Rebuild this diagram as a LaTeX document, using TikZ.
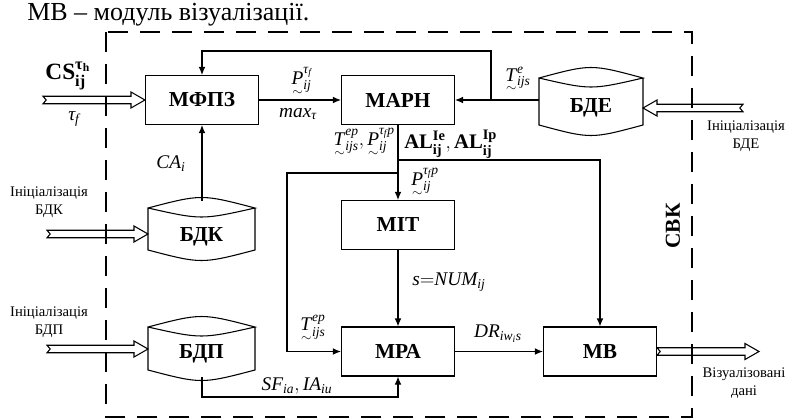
\documentclass[tikz,border=0pt]{standalone}
\usepackage{fontspec}
\usepackage{amsmath}
\setmainfont{Liberation Serif}
\usetikzlibrary{arrows.meta,calc}
\newcommand\ti[1]{\textit{#1}}
\newcommand\ut[1]{\mathord{\mbox{\ooalign{\textit{#1}\cr\hidewidth\smash{\raisebox{-0.55em}{$\scriptstyle\sim$}}\hidewidth\cr}}}}
\newcommand\dbcyl[4]{% x1, x2, top, side bottom
  \draw[thin line] (#1,#3+7) .. controls ({(#1+#2)/2},#3-7) .. (#2,#3+7)
     .. controls ({(#1+#2)/2},#3+19) .. (#1,#3+7) -- (#1,#4)
     .. controls ({(#1+#2)/2},#4+14) .. (#2,#4) -- (#2,#3+7);}
\newcommand\hollowarrow[2]{%
  \draw[thin line] let \p1=(#1),\p2=(#2),\n1={ifthenelse(\x2>\x1,1,-1)} in
    (\x1,\y1+2.8pt) -- (\x2-\n1*10.5pt,\y2+2.8pt) -- (\x2-\n1*10.5pt,\y2+6pt) -- (\x2,\y2)
    -- (\x2-\n1*10.5pt,\y2-6pt) -- (\x2-\n1*10.5pt,\y2-2.8pt) -- (\x1,\y1-2.8pt)
    -- (\x1+\n1*2.4pt,\y1) -- cycle;}
\begin{document}
\begin{tikzpicture}[x=0.75pt,y=-0.75pt,
  thin line/.style={line width=0.8pt,line join=miter},
  box/.style={draw,line width=0.8pt,minimum width=84.75pt,minimum height=36.75pt,
    inner sep=0pt,font=\bfseries\fontsize{16}{16}\selectfont},
  dblabel/.style={font=\bfseries\fontsize{16}{16}\selectfont,inner sep=0pt},
  arr/.style={line width=0.8pt,-{Latex[length=6pt,width=5pt]}},
  small/.style={font=\fontsize{11}{13.5}\selectfont,align=center,inner sep=0pt},
  lab/.style={font=\fontsize{14.5}{14.5}\selectfont,inner sep=0pt}]
\useasboundingbox (0,0) rectangle (794,419);
% title
\node[anchor=west,inner sep=0pt,font=\fontsize{19.5}{19.5}\selectfont] (title) at (27,15) {МВ – модуль візуалізації.};
% dashed frame
\draw[line width=0.8pt,dash pattern=on 15pt off 9pt] (106,32) rectangle (692,417);
\node[font=\bfseries\fontsize{16}{16}\selectfont,rotate=90,inner sep=0pt] (svk) at (673,226) {СВК};
% boxes
\node[box] (mfpz) at (202,100) {МФПЗ};
\node[box] (marn) at (398,100) {МАРН};
\node[box] (mit) at (398,225) {МІТ};
\node[box] (mpa) at (398,351.5) {МРА};
\node[box] (mv) at (600,351.5) {МВ};
% databases
\dbcyl{148}{255}{201}{250}
\node[dblabel] (bdk) at (201.5,237) {БДК};
\dbcyl{148}{255}{320}{370}
\node[dblabel] (bdp) at (201.5,354) {БДП};
\dbcyl{539}{643}{71}{125}
\node[dblabel] (bde) at (591,108) {БДЕ};
% coordinates
\coordinate (bdkTop) at (202,201);
\coordinate (bdkL) at (148,234);
\coordinate (bdpL) at (148,349);
\coordinate (bdpB) at (202,377);
\coordinate (bdpLow) at (202,397);
\coordinate (bdeL) at (539,100);
\coordinate (bdeR) at (643,108);
\coordinate (fb) at (491,100);
\coordinate (fbtop) at (491,51);
\coordinate (br1) at (398,160);
\coordinate (br2) at (398,173);
\coordinate (lp) at (287,173);
\coordinate (csT) at (43,100);
\coordinate (bdkT) at (47,234);
\coordinate (bdpT) at (47,349);
\coordinate (bdeT) at (743,108);
\coordinate (outH) at (759,351.5);
% connectors
\draw[arr] (bdkTop) -- (mfpz.south);
\draw[arr] (mfpz.east) -- (marn.west);
\draw[arr] (bdeL) -- (marn.east);
\draw[arr] (fb) -- (fbtop) -| (mfpz.north);
\draw[arr] (marn.south) -- (mit.north);
\draw[arr] (br1) -| (mv.north);
\draw[arr] (br2) -- (lp) |- (mpa.west);
\draw[arr] (mit.south) -- (mpa.north);
\draw[arr] (mpa.east) -- (mv.west);
\draw[arr] (bdpB) -- (bdpLow) -| (mpa.south);
% hollow arrows
\hollowarrow{csT}{mfpz.west}
\hollowarrow{bdkT}{bdkL}
\hollowarrow{bdpT}{bdpL}
\hollowarrow{bdeT}{bdeR}
\hollowarrow{mv.east}{outH}
% small texts
\node[small] (ibdk) at (49,202) {Ініціалізація\\БДК};
\node[small] (ibdp) at (49,322) {Ініціалізація\\БДП};
\node[small] (ibde) at (746,136) {Ініціалізація\\БДЕ};
\node[small] (vis) at (744,383) {Візуалізовані\\дані};
% math labels
\node[inner sep=0pt,font=\fontsize{17.5}{17.5}\selectfont] (lcs) at (68,76) {$\textbf{CS}^{\textbf{τ}_{\textbf{h}}}_{\textbf{ij}}$};
\node[lab] (ltf) at (74,119) {$\ti{τ}_{\ti{f}}$};
\node[lab] (lp1) at (302,80) {$\ut{P}^{\ti{τ}_{\ti{f}}}_{\ti{ij}}$};
\node[lab] (lmax) at (298,114) {$\ti{max}_{\ti{τ}}$};
\node[lab] (lte) at (518,78) {$\ut{T}^{\ti{e}}_{\ti{ijs}}$};
\node[lab,anchor=east] (ltp) at (395,141) {$\ut{T}^{\ti{ep}}_{\ti{ijs}},\ut{P}^{\ti{τ}_{\ti{f}}\ti{p}}_{\ti{ij}}$};
\node[lab,anchor=west,font=\fontsize{15.5}{15.5}\selectfont] (lal) at (404,144) {$\textbf{AL}^{\textbf{Ie}}_{\textbf{ij}},\textbf{AL}^{\textbf{Ip}}_{\textbf{ij}}$};
\node[lab] (lp2) at (425,181) {$\ut{P}^{\ti{τ}_{\ti{f}}\ti{p}}_{\ti{ij}}$};
\node[lab] (lca) at (171,164) {$\ti{CA}_{\ti{i}}$};
\node[lab] (lnum) at (449,282) {$\ti{s}{=}\ti{NUM}_{\ti{ij}}$};
\node[lab] (lt2) at (313,327) {$\ut{T}^{\ti{ep}}_{\ti{ijs}}$};
\node[lab] (ldr) at (498,334) {$\ti{DR}_{\ti{iw}_{\ti{i}}\ti{s}}$};
\node[lab] (lsf) at (297,386) {$\ti{SF}_{\ti{ia}},\ti{IA}_{\ti{iu}}$};
\end{tikzpicture}
\end{document}
